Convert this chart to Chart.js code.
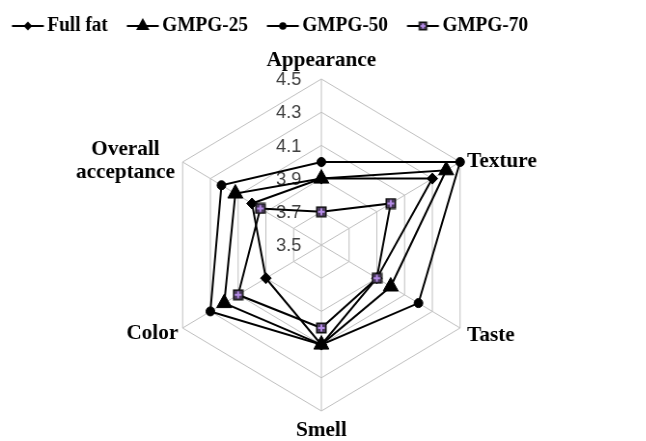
<!DOCTYPE html>
<html>
<head>
<meta charset="utf-8">
<script src="https://cdn.jsdelivr.net/npm/chart.js@4.4.1/dist/chart.umd.min.js"></script>
<style>
  html, body { margin: 0; padding: 0; background: #fff; }
  #wrap { width: 646px; height: 441px; overflow: hidden; position: relative; }
  /* the reference is slightly narrower than it is tall, squeeze the canvas */
  #radar { transform: scaleX(0.965); transform-origin: 0 0; }
</style>
</head>
<body>
<div id="wrap"><canvas id="radar" width="670" height="441"></canvas></div>
<script>
// --- Data ---
const categories = ["Appearance", "Texture", "Taste", "Smell", "Color", ["Overall", "acceptance"]];
const seriesNames = ["Full fat", "GMPG-25", "GMPG-50", "GMPG-70"];
const fullFat = [3.9, 4.3, 3.9, 4.1, 3.9, 4.0];
const gmpg25 = [3.9, 4.4, 4.0, 4.1, 4.2, 4.12];
const gmpg50 = [4.0, 4.5, 4.2, 4.1, 4.3, 4.22];
const gmpg70 = [3.7, 4.0, 3.9, 4.0, 4.1, 3.94];
const tickLabels = ["3.5", "3.7", "3.9", "4.1", "4.3", "4.5"];

// --- Markers ---
function drawDiamond(g, x, y, r) {
  g.fillStyle = "#000";
  g.beginPath();
  g.moveTo(x, y - r); g.lineTo(x + r, y); g.lineTo(x, y + r); g.lineTo(x - r, y);
  g.closePath(); g.fill();
}
function drawTriangle(g, x, y, r) {
  g.fillStyle = "#000";
  g.beginPath();
  g.moveTo(x, y - r); g.lineTo(x + r * 0.866, y + r / 2); g.lineTo(x - r * 0.866, y + r / 2);
  g.closePath(); g.fill();
}
function drawCircle(g, x, y, r) {
  g.fillStyle = "#000";
  g.beginPath(); g.arc(x, y, r, 0, Math.PI * 2); g.fill();
}
function drawPlusSquare(g, x, y, r) {
  g.fillStyle = "#111";
  g.fillRect(x - r, y - r, 2 * r, 2 * r);
  g.fillStyle = "#4a3a5c";
  g.fillRect(x - r + 1.5, y - r + 1.5, 2 * r - 3, 2 * r - 3);
  g.strokeStyle = "#b48be6";
  g.lineWidth = 2;
  g.beginPath();
  g.moveTo(x - r + 2, y); g.lineTo(x + r - 2, y);
  g.moveTo(x, y - r + 2); g.lineTo(x, y + r - 2);
  g.stroke();
}

// marker image for GMPG-70 points
const squareMarker = document.createElement("canvas");
squareMarker.width = 12; squareMarker.height = 12;
drawPlusSquare(squareMarker.getContext("2d"), 6, 6, 5.5);

// legend icons: short line with the marker in the middle
function makeLegendIcon(drawMarker, r) {
  const c = document.createElement("canvas");
  c.width = 46; c.height = 20;
  const g = c.getContext("2d");
  g.strokeStyle = "#000"; g.lineWidth = 2;
  g.beginPath(); g.moveTo(11.5, 10); g.lineTo(44.5, 10); g.stroke();
  drawMarker(g, 28, 10, r);
  return c;
}
const legendIcons = [
  makeLegendIcon(drawDiamond, 4.5),
  makeLegendIcon(drawTriangle, 8),
  makeLegendIcon(drawCircle, 3.8),
  makeLegendIcon(drawPlusSquare, 4.5),
];

// --- Plugins ---
// push the plot down below the legend without moving the legend itself
const legendSpacer = {
  id: "legendSpacer",
  beforeInit(chart) {
    const origFit = chart.legend.fit;
    chart.legend.fit = function () {
      origFit.call(this);
      this.height += 33;
    };
  },
};

// tick labels left of the vertical axis, axis titles around the hexagon
const labelLayout = [
  { align: "center", dx: 0, dy: -13 },
  { align: "left", dx: 7.3, dy: 5 },
  { align: "left", dx: 7.3, dy: 13 },
  { align: "center", dx: 0, dy: 25 },
  { align: "right", dx: -4.5, dy: 11 },
  { align: "right", dx: -7.9, dy: -7.5 },
];
const radarLabels = {
  id: "radarLabels",
  beforeDatasetsDraw(chart) {
    const scale = chart.scales.r;
    const ctx = chart.ctx;
    ctx.save();
    // tick values
    ctx.font = "19px 'Liberation Sans', Arial, sans-serif";
    ctx.fillStyle = "#404040";
    ctx.textAlign = "right";
    ctx.textBaseline = "middle";
    tickLabels.forEach((t) => {
      const d = scale.getDistanceFromCenterForValue(parseFloat(t));
      ctx.fillText(t, scale.xCenter - 20.7, scale.yCenter - d + 1);
    });
    // category names
    ctx.font = "bold 22px 'Liberation Serif', 'Times New Roman', serif";
    ctx.fillStyle = "#000";
    ctx.textBaseline = "alphabetic";
    categories.forEach((cat, i) => {
      const lines = Array.isArray(cat) ? cat : [cat];
      const p = scale.getPointPosition(i, scale.drawingArea);
      const lay = labelLayout[i];
      const blockW = Math.max(...lines.map((l) => ctx.measureText(l).width));
      let cx;
      if (lay.align === "left") cx = p.x + lay.dx + blockW / 2;
      else if (lay.align === "right") cx = p.x + lay.dx - blockW / 2;
      else cx = p.x + lay.dx;
      ctx.textAlign = "center";
      lines.forEach((l, k) => {
        ctx.fillText(l, cx, p.y + lay.dy + k * 23.4);
      });
    });
    ctx.restore();
  },
};

// --- Chart ---
const ctx = document.getElementById("radar").getContext("2d");
new Chart(ctx, {
  type: "radar",
  data: {
    labels: categories,
    datasets: [
      {
        label: seriesNames[0],
        data: fullFat,
        pointStyle: "rectRot",
        pointRadius: 5.5,
        order: 4,
      },
      {
        label: seriesNames[1],
        data: gmpg25,
        pointStyle: "triangle",
        pointRadius: 9,
        order: 3,
      },
      {
        label: seriesNames[2],
        data: gmpg50,
        pointStyle: "circle",
        pointRadius: 4.5,
        order: 2,
      },
      {
        label: seriesNames[3],
        data: gmpg70,
        pointStyle: squareMarker,
        pointRadius: 5.5,
        order: 1,
      },
    ],
  },
  options: {
    responsive: false,
    animation: false,
    devicePixelRatio: 1,
    events: [],
    layout: { padding: { left: -7.3, right: 4, top: 0, bottom: 30 } },
    elements: {
      line: { borderColor: "#000", borderWidth: 2, fill: false, tension: 0 },
      point: { backgroundColor: "#000", borderColor: "#000", borderWidth: 1 },
    },
    scales: {
      r: {
        min: parseFloat(tickLabels[0]),
        max: parseFloat(tickLabels[tickLabels.length - 1]),
        ticks: { stepSize: 0.2, display: false },
        pointLabels: { display: false },
        grid: { color: "#bfbfbf", lineWidth: 1 },
        angleLines: { color: "#bfbfbf", lineWidth: 1 },
      },
    },
    plugins: {
      tooltip: { enabled: false },
      legend: {
        position: "top",
        align: "start",
        labels: {
          usePointStyle: true,
          pointStyleWidth: 30.3,
          padding: 16,
          color: "#000",
          font: { family: "'Liberation Serif', 'Times New Roman', serif", size: 20, weight: "bold" },
          generateLabels: (chart) =>
            chart.data.datasets.map((ds, i) => ({
              text: ds.label,
              pointStyle: legendIcons[i],
              fillStyle: "rgba(0,0,0,0)",
              strokeStyle: "rgba(0,0,0,0)",
              lineWidth: 0,
              hidden: false,
              datasetIndex: i,
              fontColor: "#000",
            })),
        },
      },
    },
  },
  plugins: [legendSpacer, radarLabels],
});
</script>
</body>
</html>
